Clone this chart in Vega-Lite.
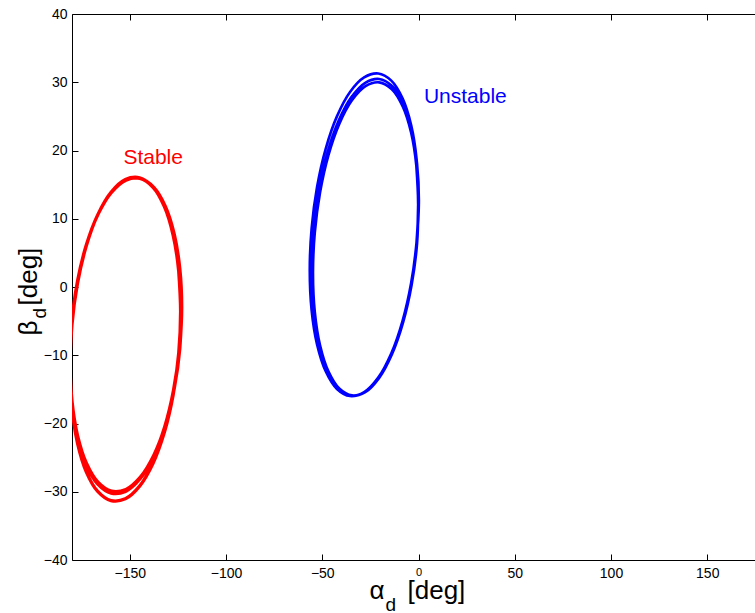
{
  "$schema": "https://vega.github.io/schema/vega-lite/v6.json",
  "width": 683,
  "height": 546,
  "autosize": {"type": "none"},
  "padding": {"left": 72, "top": 14, "right": 0, "bottom": 53},
  "background": "white",
  "config": {
    "view": {"stroke": null},
    "font": "Liberation Sans",
    "axis": {
      "grid": false,
      "domainColor": "black",
      "domainWidth": 1,
      "tickColor": "black",
      "tickWidth": 1,
      "labelColor": "black",
      "titleColor": "black",
      "labelFont": "Liberation Sans",
      "titleFont": "Liberation Sans",
      "titleFontWeight": "normal"
    }
  },
  "datasets": {
    "curves": [
      {"curve": "Stable", "step": -1, "alpha": -123.99, "beta": -9.04},
      {"curve": "Stable", "step": 0, "alpha": -123.0, "beta": -3.04},
      {"curve": "Stable", "step": 1, "alpha": -123.99, "beta": 2.69},
      {"curve": "Stable", "step": 2, "alpha": -126.89, "beta": 7.76},
      {"curve": "Stable", "step": 3, "alpha": -131.5, "beta": 11.82},
      {"curve": "Stable", "step": 4, "alpha": -137.5, "beta": 14.6},
      {"curve": "Stable", "step": 5, "alpha": -144.49, "beta": 15.92},
      {"curve": "Stable", "step": 6, "alpha": -152.0, "beta": 15.66},
      {"curve": "Stable", "step": 7, "alpha": -159.51, "beta": 13.86},
      {"curve": "Stable", "step": 8, "alpha": -166.5, "beta": 10.64},
      {"curve": "Stable", "step": 9, "alpha": -172.5, "beta": 6.22},
      {"curve": "Stable", "step": 10, "alpha": -177.11, "beta": 0.9},
      {"curve": "Stable", "step": 11, "alpha": -180.01, "beta": -4.96},
      {"curve": "Stable", "step": 12, "alpha": -181.0, "beta": -10.96},
      {"curve": "Stable", "step": 13, "alpha": -180.01, "beta": -16.69},
      {"curve": "Stable", "step": 14, "alpha": -177.11, "beta": -21.76},
      {"curve": "Stable", "step": 15, "alpha": -172.5, "beta": -25.82},
      {"curve": "Stable", "step": 16, "alpha": -166.5, "beta": -28.6},
      {"curve": "Stable", "step": 17, "alpha": -159.51, "beta": -29.92},
      {"curve": "Stable", "step": 18, "alpha": -152.0, "beta": -29.66},
      {"curve": "Stable", "step": 19, "alpha": -144.49, "beta": -27.86},
      {"curve": "Stable", "step": 20, "alpha": -137.5, "beta": -24.64},
      {"curve": "Stable", "step": 21, "alpha": -131.5, "beta": -20.22},
      {"curve": "Stable", "step": 22, "alpha": -126.89, "beta": -14.9},
      {"curve": "Stable", "step": 23, "alpha": -123.99, "beta": -9.04},
      {"curve": "Stable", "step": 24, "alpha": -123.4, "beta": -3.17},
      {"curve": "Stable", "step": 25, "alpha": -124.38, "beta": 2.6},
      {"curve": "Stable", "step": 26, "alpha": -127.26, "beta": 7.7},
      {"curve": "Stable", "step": 27, "alpha": -131.84, "beta": 11.78},
      {"curve": "Stable", "step": 28, "alpha": -137.8, "beta": 14.58},
      {"curve": "Stable", "step": 29, "alpha": -144.74, "beta": 15.9},
      {"curve": "Stable", "step": 30, "alpha": -152.2, "beta": 15.65},
      {"curve": "Stable", "step": 31, "alpha": -159.66, "beta": 13.84},
      {"curve": "Stable", "step": 32, "alpha": -166.6, "beta": 10.6},
      {"curve": "Stable", "step": 33, "alpha": -172.56, "beta": 6.16},
      {"curve": "Stable", "step": 34, "alpha": -177.14, "beta": 0.8},
      {"curve": "Stable", "step": 35, "alpha": -180.02, "beta": -5.09},
      {"curve": "Stable", "step": 36, "alpha": -181.0, "beta": -11.13},
      {"curve": "Stable", "step": 37, "alpha": -180.02, "beta": -16.9},
      {"curve": "Stable", "step": 38, "alpha": -177.14, "beta": -22.0},
      {"curve": "Stable", "step": 39, "alpha": -172.56, "beta": -26.08},
      {"curve": "Stable", "step": 40, "alpha": -166.6, "beta": -28.88},
      {"curve": "Stable", "step": 41, "alpha": -159.66, "beta": -30.2},
      {"curve": "Stable", "step": 42, "alpha": -152.2, "beta": -29.95},
      {"curve": "Stable", "step": 43, "alpha": -144.74, "beta": -28.14},
      {"curve": "Stable", "step": 44, "alpha": -137.8, "beta": -24.9},
      {"curve": "Stable", "step": 45, "alpha": -131.84, "beta": -20.46},
      {"curve": "Stable", "step": 46, "alpha": -127.26, "beta": -15.1},
      {"curve": "Stable", "step": 47, "alpha": -124.38, "beta": -9.21},
      {"curve": "Stable", "step": 48, "alpha": -123.6, "beta": -3.57},
      {"curve": "Stable", "step": 49, "alpha": -124.58, "beta": 2.35},
      {"curve": "Stable", "step": 50, "alpha": -127.45, "beta": 7.58},
      {"curve": "Stable", "step": 51, "alpha": -132.01, "beta": 11.78},
      {"curve": "Stable", "step": 52, "alpha": -137.95, "beta": 14.65},
      {"curve": "Stable", "step": 53, "alpha": -144.87, "beta": 16.0},
      {"curve": "Stable", "step": 54, "alpha": -152.3, "beta": 15.74},
      {"curve": "Stable", "step": 55, "alpha": -159.73, "beta": 13.88},
      {"curve": "Stable", "step": 56, "alpha": -166.65, "beta": 10.57},
      {"curve": "Stable", "step": 57, "alpha": -172.59, "beta": 6.0},
      {"curve": "Stable", "step": 58, "alpha": -177.15, "beta": 0.51},
      {"curve": "Stable", "step": 59, "alpha": -180.02, "beta": -5.54},
      {"curve": "Stable", "step": 60, "alpha": -181.0, "beta": -11.74},
      {"curve": "Stable", "step": 61, "alpha": -180.02, "beta": -17.65},
      {"curve": "Stable", "step": 62, "alpha": -177.15, "beta": -22.88},
      {"curve": "Stable", "step": 63, "alpha": -172.59, "beta": -27.08},
      {"curve": "Stable", "step": 64, "alpha": -166.65, "beta": -29.95},
      {"curve": "Stable", "step": 65, "alpha": -159.73, "beta": -31.3},
      {"curve": "Stable", "step": 66, "alpha": -152.3, "beta": -31.04},
      {"curve": "Stable", "step": 67, "alpha": -144.87, "beta": -29.18},
      {"curve": "Stable", "step": 68, "alpha": -137.95, "beta": -25.87},
      {"curve": "Stable", "step": 69, "alpha": -132.01, "beta": -21.3},
      {"curve": "Stable", "step": 70, "alpha": -127.45, "beta": -15.81},
      {"curve": "Stable", "step": 71, "alpha": -124.58, "beta": -9.76},
      {"curve": "Stable", "step": 72, "alpha": -123.6, "beta": -3.57},
      {"curve": "Stable", "step": 73, "alpha": -124.58, "beta": 2.35},
      {"curve": "Unstable", "step": -1, "alpha": -0.96, "beta": 6.73},
      {"curve": "Unstable", "step": 0, "alpha": 0.0, "beta": 12.88},
      {"curve": "Unstable", "step": 1, "alpha": -0.96, "beta": 18.68},
      {"curve": "Unstable", "step": 2, "alpha": -3.79, "beta": 23.71},
      {"curve": "Unstable", "step": 3, "alpha": -8.28, "beta": 27.65},
      {"curve": "Unstable", "step": 4, "alpha": -14.12, "beta": 30.24},
      {"curve": "Unstable", "step": 5, "alpha": -20.93, "beta": 31.28},
      {"curve": "Unstable", "step": 6, "alpha": -28.25, "beta": 30.71},
      {"curve": "Unstable", "step": 7, "alpha": -35.57, "beta": 28.58},
      {"curve": "Unstable", "step": 8, "alpha": -42.38, "beta": 25.0},
      {"curve": "Unstable", "step": 9, "alpha": -48.22, "beta": 20.25},
      {"curve": "Unstable", "step": 10, "alpha": -52.71, "beta": 14.65},
      {"curve": "Unstable", "step": 11, "alpha": -55.54, "beta": 8.57},
      {"curve": "Unstable", "step": 12, "alpha": -56.5, "beta": 2.42},
      {"curve": "Unstable", "step": 13, "alpha": -55.54, "beta": -3.38},
      {"curve": "Unstable", "step": 14, "alpha": -52.71, "beta": -8.41},
      {"curve": "Unstable", "step": 15, "alpha": -48.22, "beta": -12.35},
      {"curve": "Unstable", "step": 16, "alpha": -42.38, "beta": -14.94},
      {"curve": "Unstable", "step": 17, "alpha": -35.57, "beta": -15.98},
      {"curve": "Unstable", "step": 18, "alpha": -28.25, "beta": -15.41},
      {"curve": "Unstable", "step": 19, "alpha": -20.93, "beta": -13.28},
      {"curve": "Unstable", "step": 20, "alpha": -14.12, "beta": -9.71},
      {"curve": "Unstable", "step": 21, "alpha": -8.28, "beta": -4.95},
      {"curve": "Unstable", "step": 22, "alpha": -3.79, "beta": 0.65},
      {"curve": "Unstable", "step": 23, "alpha": -0.96, "beta": 6.73},
      {"curve": "Unstable", "step": 24, "alpha": 0.2, "beta": 12.39},
      {"curve": "Unstable", "step": 25, "alpha": -0.75, "beta": 18.09},
      {"curve": "Unstable", "step": 26, "alpha": -3.53, "beta": 23.04},
      {"curve": "Unstable", "step": 27, "alpha": -7.96, "beta": 26.91},
      {"curve": "Unstable", "step": 28, "alpha": -13.72, "beta": 29.45},
      {"curve": "Unstable", "step": 29, "alpha": -20.44, "beta": 30.48},
      {"curve": "Unstable", "step": 30, "alpha": -27.65, "beta": 29.92},
      {"curve": "Unstable", "step": 31, "alpha": -34.86, "beta": 27.82},
      {"curve": "Unstable", "step": 32, "alpha": -41.58, "beta": 24.31},
      {"curve": "Unstable", "step": 33, "alpha": -47.34, "beta": 19.65},
      {"curve": "Unstable", "step": 34, "alpha": -51.77, "beta": 14.13},
      {"curve": "Unstable", "step": 35, "alpha": -54.55, "beta": 8.16},
      {"curve": "Unstable", "step": 36, "alpha": -55.5, "beta": 2.11},
      {"curve": "Unstable", "step": 37, "alpha": -54.55, "beta": -3.59},
      {"curve": "Unstable", "step": 38, "alpha": -51.77, "beta": -8.54},
      {"curve": "Unstable", "step": 39, "alpha": -47.34, "beta": -12.41},
      {"curve": "Unstable", "step": 40, "alpha": -41.58, "beta": -14.95},
      {"curve": "Unstable", "step": 41, "alpha": -34.86, "beta": -15.98},
      {"curve": "Unstable", "step": 42, "alpha": -27.65, "beta": -15.42},
      {"curve": "Unstable", "step": 43, "alpha": -20.44, "beta": -13.32},
      {"curve": "Unstable", "step": 44, "alpha": -13.72, "beta": -9.81},
      {"curve": "Unstable", "step": 45, "alpha": -7.96, "beta": -5.15},
      {"curve": "Unstable", "step": 46, "alpha": -3.53, "beta": 0.37},
      {"curve": "Unstable", "step": 47, "alpha": -0.75, "beta": 6.34},
      {"curve": "Unstable", "step": 48, "alpha": -0.2, "beta": 12.12},
      {"curve": "Unstable", "step": 49, "alpha": -1.13, "beta": 17.74},
      {"curve": "Unstable", "step": 50, "alpha": -3.86, "beta": 22.63},
      {"curve": "Unstable", "step": 51, "alpha": -8.2, "beta": 26.45},
      {"curve": "Unstable", "step": 52, "alpha": -13.85, "beta": 28.97},
      {"curve": "Unstable", "step": 53, "alpha": -20.43, "beta": 29.98},
      {"curve": "Unstable", "step": 54, "alpha": -27.5, "beta": 29.43},
      {"curve": "Unstable", "step": 55, "alpha": -34.57, "beta": 27.36},
      {"curve": "Unstable", "step": 56, "alpha": -41.15, "beta": 23.9},
      {"curve": "Unstable", "step": 57, "alpha": -46.8, "beta": 19.29},
      {"curve": "Unstable", "step": 58, "alpha": -51.14, "beta": 13.85},
      {"curve": "Unstable", "step": 59, "alpha": -53.87, "beta": 7.95},
      {"curve": "Unstable", "step": 60, "alpha": -54.8, "beta": 1.98},
      {"curve": "Unstable", "step": 61, "alpha": -53.87, "beta": -3.64},
      {"curve": "Unstable", "step": 62, "alpha": -51.14, "beta": -8.53},
      {"curve": "Unstable", "step": 63, "alpha": -46.8, "beta": -12.35},
      {"curve": "Unstable", "step": 64, "alpha": -41.15, "beta": -14.87},
      {"curve": "Unstable", "step": 65, "alpha": -34.57, "beta": -15.88},
      {"curve": "Unstable", "step": 66, "alpha": -27.5, "beta": -15.33},
      {"curve": "Unstable", "step": 67, "alpha": -20.43, "beta": -13.26},
      {"curve": "Unstable", "step": 68, "alpha": -13.85, "beta": -9.8},
      {"curve": "Unstable", "step": 69, "alpha": -8.2, "beta": -5.19},
      {"curve": "Unstable", "step": 70, "alpha": -3.86, "beta": 0.25},
      {"curve": "Unstable", "step": 71, "alpha": -1.13, "beta": 6.15},
      {"curve": "Unstable", "step": 72, "alpha": -0.2, "beta": 12.12},
      {"curve": "Unstable", "step": 73, "alpha": -1.13, "beta": 17.74}
    ],
    "labels": [
      {"curve": "Stable", "alpha": -153.3, "beta": 18.0},
      {"curve": "Unstable", "alpha": 2.8, "beta": 26.9}
    ]
  },
  "layer": [
    {
      "data": {"name": "curves"},
      "mark": {"type": "line", "interpolate": "catmull-rom", "clip": true},
      "encoding": {
        "x": {
          "field": "alpha", "type": "quantitative",
          "scale": {"domain": [-180, 174.8], "nice": false, "zero": false},
          "axis": {
            "orient": "bottom",
            "values": [-150, -100, -50, 0, 50, 100, 150],
            "tickSize": -6,
            "labelPadding": 12,
            "labelFontSize": {"condition": {"test": "datum.value === 0", "value": 11}, "value": 14},
            "title": "α",
            "titleFontSize": 26,
            "titleAlign": "left",
            "titleBaseline": "alphabetic",
            "titleX": 297,
            "titleY": 38
          }
        },
        "y": {
          "field": "beta", "type": "quantitative",
          "scale": {"domain": [-40, 40], "nice": false, "zero": false},
          "axis": {
            "orient": "left",
            "values": [-40, -30, -20, -10, 0, 10, 20, 30, 40],
            "tickSize": -6,
            "labelPadding": 11,
            "labelFontSize": 14,
            "title": "β",
            "titleFontSize": 26,
            "titleAngle": -90,
            "titleAlign": "left",
            "titleBaseline": "alphabetic",
            "titleX": -36,
            "titleY": 321
          }
        },
        "color": {
          "field": "curve", "type": "nominal",
          "scale": {"domain": ["Stable", "Unstable"], "range": ["#ff0000", "#0000ff"]},
          "legend": null
        },
        "strokeWidth": {
          "field": "curve", "type": "nominal",
          "scale": {"domain": ["Stable", "Unstable"], "range": [3.3, 2.6]},
          "legend": null
        },
        "order": {"field": "step", "type": "quantitative"}
      }
    },
    {
      "data": {"name": "labels"},
      "mark": {"type": "text", "align": "left", "baseline": "alphabetic", "fontSize": 21, "font": "Liberation Sans"},
      "encoding": {
        "x": {
          "field": "alpha", "type": "quantitative",
          "axis": {
            "orient": "top",
            "values": [-150, -100, -50, 0, 50, 100, 150],
            "tickSize": -6,
            "labels": false,
            "title": null
          }
        },
        "y": {
          "field": "beta", "type": "quantitative",
          "axis": {
            "orient": "left",
            "labels": false,
            "ticks": false,
            "domain": false,
            "title": "[deg]",
            "titleFontSize": 26,
            "titleAngle": -90,
            "titleAlign": "left",
            "titleBaseline": "alphabetic",
            "titleX": -36,
            "titleY": 291
          }
        },
        "text": {"field": "curve", "type": "nominal"},
        "color": {"field": "curve", "type": "nominal", "legend": null}
      }
    },
    {
      "data": {"name": "labels"},
      "mark": {"type": "point", "opacity": 0},
      "encoding": {
        "x": {
          "field": "alpha", "type": "quantitative",
          "axis": {
            "orient": "bottom",
            "labels": false,
            "ticks": false,
            "domain": false,
            "title": "d",
            "titleFontSize": 19,
            "titleAlign": "left",
            "titleBaseline": "alphabetic",
            "titleX": 313,
            "titleY": 50
          }
        },
        "y": {
          "field": "beta", "type": "quantitative",
          "axis": {
            "orient": "left",
            "labels": false,
            "ticks": false,
            "domain": false,
            "title": "d",
            "titleFontSize": 19,
            "titleAngle": -90,
            "titleAlign": "left",
            "titleBaseline": "alphabetic",
            "titleX": -27,
            "titleY": 304
          }
        }
      }
    },
    {
      "data": {"name": "labels"},
      "mark": {"type": "point", "opacity": 0},
      "encoding": {
        "x": {
          "field": "alpha", "type": "quantitative",
          "axis": {
            "orient": "bottom",
            "labels": false,
            "ticks": false,
            "domain": false,
            "title": "[deg]",
            "titleFontSize": 26,
            "titleAlign": "left",
            "titleBaseline": "alphabetic",
            "titleX": 335,
            "titleY": 38
          }
        },
        "y": {"field": "beta", "type": "quantitative", "axis": null}
      }
    }
  ],
  "resolve": {"axis": {"x": "independent", "y": "independent"}}
}
